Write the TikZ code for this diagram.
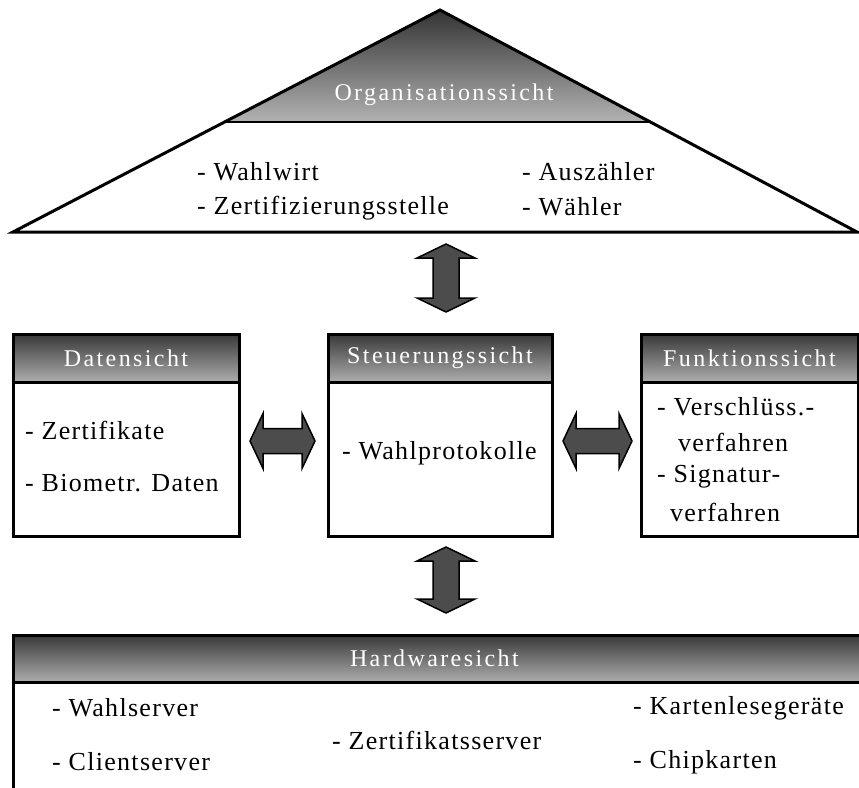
\documentclass[tikz,border=0pt]{standalone}
\usepackage{fontspec}
\setmainfont{Liberation Serif}[LetterSpace=5]
\newfontfamily\titlefont{Liberation Serif}[LetterSpace=10]

\tikzset{
  box/.style={draw=black, line width=3, fill=white, outer sep=0},
  bar/.style={draw=black, line width=3, outer sep=0, top color=black!78, bottom color=black!32,
    text=white, font=\titlefont\fontsize{24}{28}\selectfont},
  item/.style={anchor=west, inner sep=0, font=\fontsize{26}{30}\selectfont},
  blockarrow/.style={draw=black, line width=1.5, fill=black!70},
}

\begin{document}
\begin{tikzpicture}[x=1pt, y=1pt]
  \useasboundingbox (0,0) rectangle (859,-787);
  \clip (0,0) rectangle (859,-787);
  % Organisation triangle
  \coordinate (apex) at (440,-10);
  \coordinate (baseL) at (13,-232);
  \coordinate (baseR) at (857,-232);
  \shade[top color=black!80, bottom color=black!30] (apex) -- (225,-122) -- (650,-122) -- cycle;
  \draw[line width=2] (225,-122) -- (650,-122);
  \draw[line width=3, line join=miter] (apex) -- (baseL) -- (baseR) -- cycle;
  \node[text=white, font=\titlefont\fontsize{24}{28}\selectfont] (org) at (444,-95) {Organisationssicht};
  \node[item] (orgA) at (197,-172) {- Wahlwirt};
  \node[item] (orgB) at (197,-208) {- Zertifizierungsstelle};
  \node[item] (orgC) at (522,-172) {- Auszähler};
  \node[item] (orgD) at (522,-207) {- Wähler};
  % Datensicht
  \node[bar, minimum width=226, minimum height=48, anchor=north west] (datenbar) at (13,-334) {Datensicht};
  \node[box, minimum width=226, minimum height=154, anchor=north] (daten) at (datenbar.south) {};
  \node[item] (datenA) at (25,-430) {- Zertifikate};
  \node[item] (datenB) at (25,-483) {- Biometr. Daten};
  % Steuerungssicht
  \node[bar, minimum width=224, minimum height=48, anchor=north west] (steuerbar) at (328,-334) {Steuerungssicht};
  \node[box, minimum width=224, minimum height=154, anchor=north] (steuer) at (steuerbar.south) {};
  \node[item] (steuerA) at (342,-453) {- Wahlprotokolle};
  % Funktionssicht
  \node[bar, minimum width=217, minimum height=48, anchor=north west] (funktbar) at (641,-334) {Funktionssicht};
  \node[box, minimum width=217, minimum height=154, anchor=north] (funkt) at (funktbar.south) {};
  \node[item] (funktA) at (657,-407) {- Verschlüss.-};
  \node[item] (funktB) at (678,-442) {verfahren};
  \node[item] (funktC) at (657,-477) {- Signatur-};
  \node[item] (funktD) at (670,-512) {verfahren};
  % Hardwaresicht
  \node[bar, minimum width=870, minimum height=47, anchor=north west, text width=852, align=left] (hardbar) at (13,-635) {\hspace{328pt}Hardwaresicht};
  \node[box, minimum width=870, minimum height=150, anchor=north] (hard) at (hardbar.south) {};
  \node[item] (hardA) at (52,-708) {- Wahlserver};
  \node[item] (hardB) at (52,-762) {- Clientserver};
  \node[item] (hardC) at (332,-740) {- Zertifikatsserver};
  \node[item] (hardD) at (633,-708) {- Kartenlesegeräte};
  \node[item] (hardE) at (633,-762) {- Chipkarten};
  % Arrows
  \coordinate (orgS) at (446,-244);
  \coordinate (steuerN) at (446,-312);
  \coordinate (steuerS) at (446,-547);
  \coordinate (hardN) at (446,-613);
  \coordinate (datenE) at (250,-441);
  \coordinate (steuerW) at (315,-441);
  \coordinate (steuerE) at (563,-441);
  \coordinate (funktW) at (632,-441);
  \draw[blockarrow] (orgS) -- ++(29,-14) -- ++(-16,0) -- ([shift={(13,14)}]steuerN) -- ++(16,0) -- (steuerN)
    -- ++(-29,14) -- ++(16,0) -- ([shift={(-13,-14)}]orgS) -- ++(-16,0) -- cycle;
  \draw[blockarrow] (steuerS) -- ++(29,-14) -- ++(-16,0) -- ([shift={(13,14)}]hardN) -- ++(16,0) -- (hardN)
    -- ++(-29,14) -- ++(16,0) -- ([shift={(-13,-14)}]steuerS) -- ++(-16,0) -- cycle;
  \draw[blockarrow] (datenE) -- ++(13,27.5) -- ++(0,-15) -- ([shift={(-13,12.5)}]steuerW) -- ++(0,15) -- (steuerW)
    -- ++(-13,-27.5) -- ++(0,15) -- ([shift={(13,-12.5)}]datenE) -- ++(0,-15) -- cycle;
  \draw[blockarrow] (steuerE) -- ++(13,27.5) -- ++(0,-15) -- ([shift={(-13,12.5)}]funktW) -- ++(0,15) -- (funktW)
    -- ++(-13,-27.5) -- ++(0,15) -- ([shift={(13,-12.5)}]steuerE) -- ++(0,-15) -- cycle;
\end{tikzpicture}
\end{document}
